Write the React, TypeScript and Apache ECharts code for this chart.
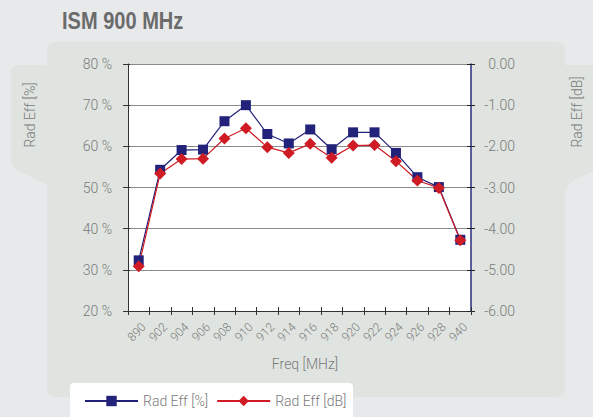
import React, { useEffect, useRef } from "react";
import * as echarts from "echarts";

const categories = ["890", "902", "904", "906", "908", "910", "912", "914", "916", "918", "920", "922", "924", "926", "928", "940"];
const radEffPct = [32.3, 54.3, 59.1, 59.2, 66.1, 70.0, 63.0, 60.7, 64.1, 59.3, 63.4, 63.4, 58.4, 52.5, 50.1, 37.3];
const radEffDb = [-4.91, -2.66, -2.31, -2.3, -1.81, -1.56, -2.02, -2.16, -1.94, -2.28, -1.98, -1.97, -2.36, -2.83, -3.01, -4.28];
const seriesNames = ["Rad Eff [%]", "Rad Eff [dB]"];

const BLUE = "#22227a";
const RED = "#cf1b24";
const LABEL = "#7a7a7a";
const FONT = "Roboto, 'Liberation Sans', sans-serif";

const LEFT_TAB = "M48 65 L19 65 Q11 65 11 73 L11 160 Q11 168 19 171 L48 185 Z";
const RIGHT_TAB = "M560 65 L593 65 L593 171 L574 180 Q567 184 566 192 L560 192 Z";

export default function App() {
  const ref = useRef<HTMLDivElement>(null);
  useEffect(() => {
    echarts.graphic.registerShape("leftTab", echarts.graphic.extendPath(LEFT_TAB, {}));
    echarts.graphic.registerShape("rightTab", echarts.graphic.extendPath(RIGHT_TAB, {}));
    const chart = echarts.init(ref.current!, null, { renderer: "svg" });
    const panelFill = "#dfe4e0";
    chart.setOption({
      animation: false,
      backgroundColor: "#e8e9ea",
      textStyle: { fontFamily: FONT },
      graphic: [
        { type: "rect", z: -10, shape: { x: 47, y: 42, width: 518, height: 355, r: 8 }, style: { fill: panelFill } },
        { type: "leftTab", z: -10, x: 0, y: 0, style: { fill: panelFill } },
        { type: "rightTab", z: -10, x: 0, y: 0, style: { fill: panelFill } },
        { type: "rect", z: -9, shape: { x: 70, y: 383, width: 283, height: 50, r: 4 }, style: { fill: "#ffffff" } },
        {
          type: "text", x: 62, y: 21, z: 10, scaleX: 0.835,
          style: { text: "ISM 900 MHz", fontFamily: "'Liberation Sans', Arial, sans-serif", fontWeight: "bold", fontSize: 24, fill: "#6b6b6b", verticalAlign: "middle", align: "left" },
        },
        {
          type: "text", x: 30, y: 115, rotation: Math.PI / 2, z: 10,
          style: { text: "Rad Eff [%]", fontFamily: FONT, fontWeight: 300, fontSize: 14, fill: LABEL, align: "center", verticalAlign: "middle" },
        },
        {
          type: "text", x: 577, y: 112, rotation: Math.PI / 2, z: 10,
          style: { text: "Rad Eff [dB]", fontFamily: FONT, fontWeight: 300, fontSize: 14, fill: LABEL, align: "center", verticalAlign: "middle" },
        },
        {
          type: "text", x: 305, y: 364, z: 10,
          style: { text: "Freq [MHz]", fontFamily: FONT, fontWeight: 300, fontSize: 14, fill: LABEL, align: "center", verticalAlign: "middle" },
        },
      ],
      legend: {
        left: 79, top: 389, itemWidth: 53, itemHeight: 13, itemGap: 8,
        textStyle: { fontSize: 14, color: LABEL, fontFamily: FONT, fontWeight: 300 },
        data: seriesNames,
      },
      grid: [
        { left: 128, top: 64, width: 343, height: 247, show: true, backgroundColor: "#ffffff", borderWidth: 0, containLabel: false },
        { left: 133, top: 64, width: 343, height: 247, show: false, containLabel: false },
      ],
      xAxis: [
        {
          type: "category", data: categories, position: "bottom", boundaryGap: true, gridIndex: 0,
          axisLine: { show: true, onZero: false, lineStyle: { color: "#333", width: 1 } },
          axisTick: { show: true, interval: 0, length: 4, lineStyle: { color: "#333" } },
          axisLabel: { show: false },
          splitLine: { show: false },
        },
        {
          type: "category", data: categories, position: "bottom", boundaryGap: true, gridIndex: 0,
          axisLine: { show: false, onZero: false },
          axisTick: { show: true, inside: true, interval: 0, length: 4, lineStyle: { color: "#333" } },
          axisLabel: { show: false },
          splitLine: { show: false },
        },
        {
          type: "category", data: categories, position: "bottom", boundaryGap: true, gridIndex: 1,
          axisLine: { show: false, onZero: false },
          axisTick: { show: false },
          axisLabel: { interval: 0, rotate: 45, margin: 14, fontSize: 12, color: LABEL, fontFamily: FONT, fontWeight: 300 },
          splitLine: { show: false },
        },
      ],
      yAxis: [
        {
          type: "value", position: "left", min: 20, max: 80, interval: 10, gridIndex: 0,
          axisLine: { show: true, lineStyle: { color: "#333", width: 1 } },
          axisTick: { show: true, length: 5, lineStyle: { color: "#333" } },
          axisLabel: { formatter: (v: number) => `${v} %`, margin: 16, fontSize: 14, color: LABEL, fontFamily: FONT, fontWeight: 300 },
          splitLine: { show: true, lineStyle: { color: "#8a8a8a", width: 1 } },
        },
        {
          type: "value", position: "right", min: -6, max: 0, interval: 1, gridIndex: 0,
          axisLine: { show: true, lineStyle: { color: "#2a2a80", width: 1.5 } },
          axisTick: { show: true, length: 4, lineStyle: { color: "#222" } },
          axisLabel: { formatter: (v: number) => v.toFixed(2), align: "right", margin: 44, fontSize: 14, color: LABEL, fontFamily: FONT, fontWeight: 300 },
          splitLine: { show: false },
        },
        {
          type: "value", position: "left", min: 20, max: 80, interval: 10, gridIndex: 0,
          axisLine: { show: false },
          axisTick: { show: true, inside: true, length: 2, lineStyle: { color: "#333" } },
          axisLabel: { show: false },
          splitLine: { show: false },
        },
        {
          type: "value", position: "right", min: -6, max: 0, interval: 1, gridIndex: 0,
          axisLine: { show: false },
          axisTick: { show: true, inside: true, length: 4, lineStyle: { color: "#222" } },
          axisLabel: { show: false },
          splitLine: { show: false },
        },
        {
          type: "value", gridIndex: 1, min: 20, max: 80, interval: 10, show: false,
        },
      ],
      series: [
        {
          name: seriesNames[0], type: "line", xAxisIndex: 0, yAxisIndex: 0, data: radEffPct,
          symbol: "rect", symbolSize: 10, lineStyle: { color: BLUE, width: 1.2 }, itemStyle: { color: BLUE },
        },
        {
          name: seriesNames[1], type: "line", xAxisIndex: 0, yAxisIndex: 1, data: radEffDb,
          symbol: "diamond", symbolSize: 12, lineStyle: { color: RED, width: 1.2 }, itemStyle: { color: RED },
        },
      ],
    });
    return () => chart.dispose();
  }, []);
  return <div ref={ref} style={{ position: "fixed", left: 0, top: 0, width: 593, height: 417 }} />;
}
